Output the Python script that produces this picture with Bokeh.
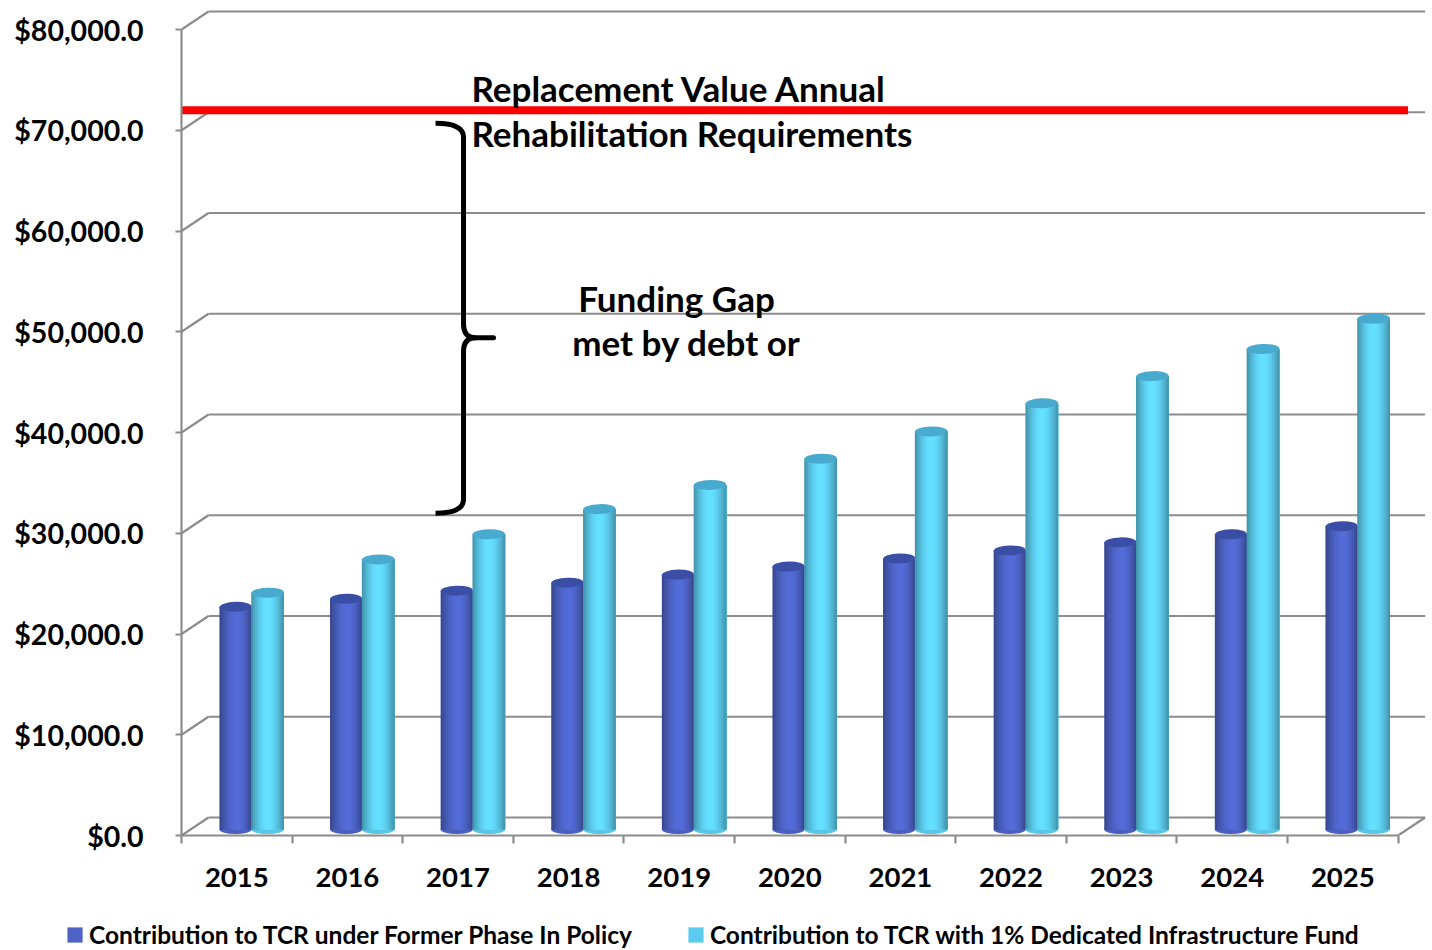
import math
from bokeh.plotting import figure
from bokeh.models import (Range1d, LinearAxis, FixedTicker, NumeralTickFormatter,
                          Legend, LegendItem, ColumnDataSource)
from bokeh.core.properties import value
from bokeh.embed import file_html
from bokeh.resources import INLINE

# ---------------- data ----------------
years = [2015, 2016, 2017, 2018, 2019, 2020, 2021, 2022, 2023, 2024, 2025]
former_policy = [22100, 22900, 23700, 24500, 25300, 26100, 26900, 27700, 28500, 29300, 30100]
dedicated_fund = [23500, 26800, 29300, 31800, 34200, 36800, 39500, 42300, 45000, 47700, 50700]
replacement_requirement = 71400
y_ticks = [0, 10000, 20000, 30000, 40000, 50000, 60000, 70000, 80000]
series_names = ["Contribution to TCR under Former Phase In Policy",
                "Contribution to TCR with 1% Dedicated Infrastructure Fund"]
series_colors = ["#4f63c6", "#5bcbf0"]
annotation_lines = ["Replacement Value Annual", "Rehabilitation Requirements",
                    "Funding Gap", "met by debt or"]
gap_top = 70100
gap_bottom = 31400
gap_tip = 48800

# ---------------- geometry / style ----------------
FRAME_W, FRAME_H = 1246, 827
TOTAL_W = 1429
KX = 110.6          # px per category
KY = 0.010075       # px per dollar
BAR_LIFT = 6        # px: bars sit at mid depth
BACK_LIFT = 18      # px: back wall offset up
BACK_SHIFT = 27     # px: back wall offset right
FONT = "Lato"
GRID = "#8c8c8c"

x0 = years[0] - 0.5
x_range = Range1d(x0, x0 + FRAME_W / KX)
y_range = Range1d(-BAR_LIFT / KY, (FRAME_H - BAR_LIFT) / KY)

p = figure(frame_width=FRAME_W, frame_height=FRAME_H, x_range=x_range, y_range=y_range,
           x_axis_type=None, y_axis_type=None, toolbar_location=None,
           output_backend="svg", min_border_left=181, min_border_right=TOTAL_W - 181 - FRAME_W,
           min_border_top=8, min_border_bottom=78, outline_line_color=None,
           background_fill_color="white", border_fill_color="white")
p.extra_y_ranges = {"front": Range1d(0, FRAME_H / KY)}

# back wall gridlines and side connectors
dxb = BACK_SHIFT / KX
lift_b = (BACK_LIFT - BAR_LIFT) / KY
drop_f = BAR_LIFT / KY
x_end = years[-1] + 0.5
p.segment(x0=[x0 + dxb] * len(y_ticks), y0=[t + lift_b for t in y_ticks],
          x1=[x_end + dxb] * len(y_ticks), y1=[t + lift_b for t in y_ticks],
          line_color=GRID, line_width=2.2)
p.segment(x0=[x0] * len(y_ticks), y0=[t - drop_f for t in y_ticks],
          x1=[x0 + dxb] * len(y_ticks), y1=[t + lift_b for t in y_ticks],
          line_color=GRID, line_width=2.2)
p.segment(x0=[x_end], y0=[-drop_f], x1=[x_end + dxb], y1=[lift_b],
          line_color=GRID, line_width=2.2)

# axes
yax = LinearAxis(y_range_name="front", ticker=FixedTicker(ticks=y_ticks),
                 formatter=NumeralTickFormatter(format="$0,0.0"), bounds=(0, y_ticks[-1]))
yax.axis_line_color = GRID
yax.axis_line_width = 2.2
yax.major_tick_line_color = GRID
yax.major_tick_line_width = 2.2
yax.major_tick_out = 6
yax.major_tick_in = 0
yax.minor_tick_line_color = None
yax.major_label_standoff = 32
yax.major_label_text_font = FONT
yax.major_label_text_font_style = "bold"
yax.major_label_text_font_size = "28.5px"
yax.major_label_text_color = "black"
p.add_layout(yax, "left")

xax = LinearAxis(ticker=FixedTicker(ticks=years, minor_ticks=[y - 0.5 for y in years] + [x_end]),
                 bounds=(x0, x_end))
xax.axis_line_color = GRID
xax.axis_line_width = 2.2
xax.major_tick_line_color = None
xax.major_tick_out = 0
xax.major_tick_in = 0
xax.minor_tick_line_color = GRID
xax.minor_tick_line_width = 2.2
xax.minor_tick_out = 8
xax.minor_tick_in = 0
xax.major_label_standoff = 24
xax.major_label_text_font = FONT
xax.major_label_text_font_style = "bold"
xax.major_label_text_font_size = "27.5px"
xax.major_label_text_color = "black"
p.add_layout(xax, "below")


def shade(rgb, f):
    return "#%02x%02x%02x" % tuple(max(0, min(255, int(round(c * f)))) for c in rgb)


def cylinders(vals, offset, width, rgb, cap_rgb, peak):
    n = 18
    xs, tops, cols, ws = [], [], [], []
    for yr, v in zip(years, vals):
        left = yr + offset - width / 2
        right = left + width
        for k in range(n):
            t = (k + 0.5) / n
            u = t / (2 * peak) if t < peak else 0.5 + (t - peak) / (2 * (1 - peak))
            f = 0.66 + 0.36 * math.sin(math.pi * u)
            lk = left + k * width / n
            xs.append((lk + right) / 2)
            ws.append(right - lk)
            tops.append(v)
            cols.append(shade(rgb, f))
    cx = [yr + offset for yr in years]
    p.ellipse(x=cx, y=[0] * len(years), width=width, height=9, height_units="screen",
              fill_color=shade(rgb, 0.9), line_color=None)
    src = ColumnDataSource(dict(x=xs, top=tops, c=cols, w=ws))
    p.vbar(x="x", top="top", bottom=0, width="w", fill_color="c", line_color=None, source=src)
    p.ellipse(x=cx, y=vals, width=width, height=10, height_units="screen", angle=0.03,
              fill_color=shade(cap_rgb, 1.0), line_color=None)


cylinders(former_policy, -0.012, 0.29, (82, 106, 212), (58, 78, 165), 0.55)
cylinders(dedicated_fund, 0.278, 0.295, (99, 220, 255), (72, 170, 206), 0.5)

# replacement requirement line
p.segment(x0=[x0 - 0.1], y0=[replacement_requirement], x1=[years[-1] + 0.59],
          y1=[replacement_requirement], line_color="#ff0000", line_width=8)

# text annotations
p.text(x=[2017.122, 2017.122], y=[72190, 67740], text=annotation_lines[:2],
       text_font=value(FONT), text_font_style="bold", text_font_size="35px",
       text_align="left", text_baseline="alphabetic", text_color="black", y_offset=-14)
p.text(x=[2018.976, 2019.066], y=[51414, 47047], text=annotation_lines[2:],
       text_font=value(FONT), text_font_style="bold", text_font_size="35px",
       text_align="center", text_baseline="alphabetic", text_color="black", y_offset=-14)

# curly brace for the funding gap
bx = years[2] + 0.05
hook = 28 / KX
tipw = 30 / KX
rx = 12 / KX
ry = 14 / KY
bw = 5
p.quadratic(x0=[bx - hook, bx, bx, bx], y0=[gap_top, gap_tip + ry, gap_tip - ry, gap_bottom + ry],
            x1=[bx, bx + rx, bx + rx, bx - hook], y1=[gap_top - ry, gap_tip, gap_tip, gap_bottom],
            cx=[bx, bx, bx, bx], cy=[gap_top, gap_tip, gap_tip, gap_bottom],
            line_color="black", line_width=bw)
p.segment(x0=[bx, bx, bx + rx], y0=[gap_top - ry, gap_tip - ry, gap_tip],
          x1=[bx, bx, bx + tipw], y1=[gap_tip + ry, gap_bottom + ry, gap_tip],
          line_color="black", line_width=bw, line_cap="round")

# legend strip below the chart (separate root so its frame spans the full width)
LEG_H = 36
q = figure(width=TOTAL_W, height=LEG_H, x_range=Range1d(0, 1), y_range=Range1d(0, 1),
           x_axis_type=None, y_axis_type=None, toolbar_location=None,
           output_backend="svg", min_border=0, outline_line_color=None,
           background_fill_color="white", border_fill_color="white")
# legend swatch renderers: zero-height bars, so only the legend shows their colour
r1 = q.vbar(x=[0.5], top=[0], bottom=[0], width=0.0001, fill_color=series_colors[0], line_color=None)
r2 = q.vbar(x=[0.5], top=[0], bottom=[0], width=0.0001, fill_color=series_colors[1], line_color=None)
legend = Legend(items=[LegendItem(label=series_names[0], renderers=[r1]),
                       LegendItem(label=series_names[1], renderers=[r2])],
                orientation="horizontal", location=(65, 0),
                glyph_width=19, glyph_height=19, label_standoff=5, spacing=54,
                padding=0, margin=0, border_line_color=None, background_fill_alpha=0,
                label_text_font=FONT, label_text_font_style="bold",
                label_text_font_size="24.5px", label_text_color="black")
q.add_layout(legend, "center")

open("out.html", "w").write(file_html([p, q], INLINE))
